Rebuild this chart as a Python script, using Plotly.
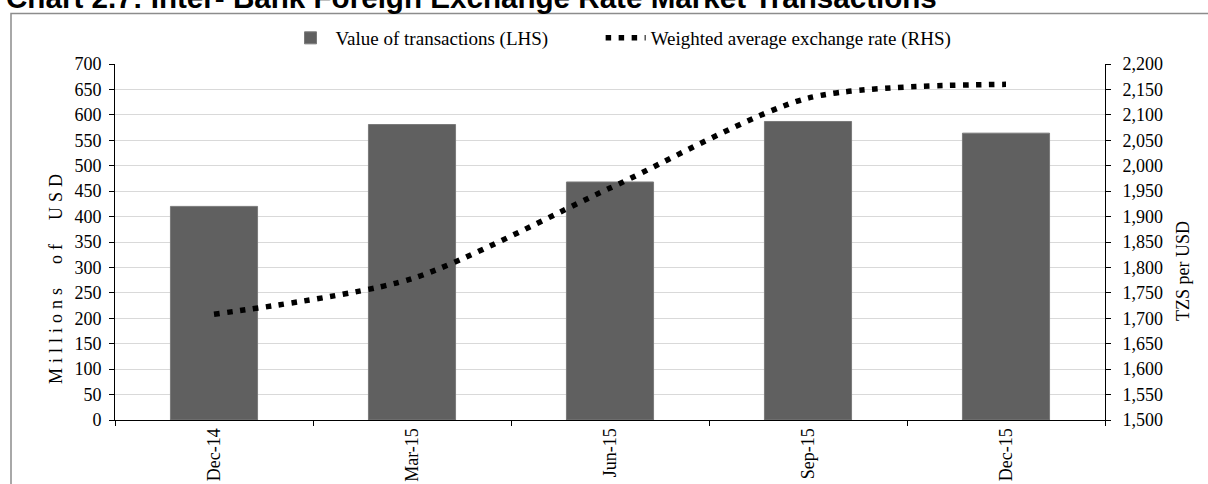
import plotly.graph_objects as go

categories = ["Dec-14", "Mar-15", "Jun-15", "Sep-15", "Dec-15"]
transactions = [420, 581, 468, 587, 564]
exchange_rate = [1708, 1778, 1956, 2133, 2160]
left_ticks = list(range(0, 701, 50))
right_ticks = list(range(1500, 2201, 50))
right_tick_labels = [f"{v:,}" for v in right_ticks]

W, H = 1208, 484
L, R, T, B = 115, 103, 64, 64
pw, ph = W - L - R, H - T - B

def px_x(x):
    return (x - L) / pw

def px_y(y):
    return 1 - (y - T) / ph

serif = "Liberation Serif, Times New Roman, serif"
FS = 18
pad = "\u00a0" * 10

fig = go.Figure()
fig.add_trace(go.Bar(
    x=categories, y=transactions, name="Value of transactions (LHS)" + pad,
    marker=dict(color="#606060", line=dict(color="#7a7a7a", width=1)),
    width=0.44, yaxis="y"))
fig.add_trace(go.Scatter(
    x=categories, y=exchange_rate, name="Weighted average exchange rate (RHS)",
    mode="lines", line=dict(color="black", width=5.5, dash="5.5px,7.5px", shape="spline", smoothing=0.75),
    yaxis="y2"))

fig.update_layout(
    width=W, height=H,
    margin=dict(l=L, r=R, t=T, b=B, autoexpand=False),
    plot_bgcolor="white", paper_bgcolor="white",
    font=dict(family=serif, size=FS, color="black"),
    showlegend=True,
    legend=dict(orientation="h", x=px_x(621), xanchor="center", y=px_y(38), yanchor="middle",
                font=dict(family=serif, size=19), bgcolor="rgba(0,0,0,0)",
                itemwidth=40, tracegroupgap=0),
    xaxis=dict(showline=True, linecolor="black", linewidth=1, ticks="outside", ticklen=5,
               tickcolor="black", tickson="boundaries", tickangle=-90, automargin=False,
               tickfont=dict(family=serif, size=FS), showgrid=False, mirror=False),
    yaxis=dict(range=[0, 700], tickvals=left_ticks, showline=True, linecolor="black",
               linewidth=1, ticks="outside", ticklen=5, tickcolor="black",
               gridcolor="#d9d9d9", gridwidth=1, automargin=False, zeroline=False,
               ticklabelstandoff=4, tickfont=dict(family=serif, size=FS)),
    yaxis2=dict(range=[1500, 2200], tickvals=right_ticks, ticktext=right_tick_labels,
                overlaying="y", side="right", showline=True, linecolor="black", linewidth=1,
                ticks="outside", ticklen=5, tickcolor="black", showgrid=False,
                automargin=False, zeroline=False, ticklabelstandoff=8,
                tickfont=dict(family=serif, size=FS)),
)

fig.add_shape(type="rect", xref="paper", yref="paper",
              x0=px_x(11), x1=px_x(1300), y0=px_y(600), y1=px_y(13.5),
              line=dict(color="#8c8c8c", width=1.5), fillcolor="rgba(0,0,0,0)", layer="below")

fig.add_annotation(text="<b>Chart 2.7: Inter- Bank Foreign Exchange Rate Market Transactions</b>",
                   xref="paper", yref="paper", x=px_x(4), y=px_y(-3), xanchor="left", yanchor="middle",
                   showarrow=False, font=dict(family="Liberation Sans, Arial, sans-serif", size=29.6, color="black"))
fig.add_annotation(text='<span style="letter-spacing:5px">Millions  of  USD</span>',
                   xref="paper", yref="paper", x=px_x(44), y=px_y(277),
                   textangle=-90, showarrow=False, font=dict(family=serif, size=FS))
fig.add_annotation(text="TZS per USD", xref="paper", yref="paper", x=px_x(1195), y=px_y(271),
                   textangle=-90, showarrow=False, font=dict(family=serif, size=FS))

fig.write_html("out.html", config={"displayModeBar": False},
               post_script="document.body.style.margin='0';document.body.style.overflow='hidden';")
